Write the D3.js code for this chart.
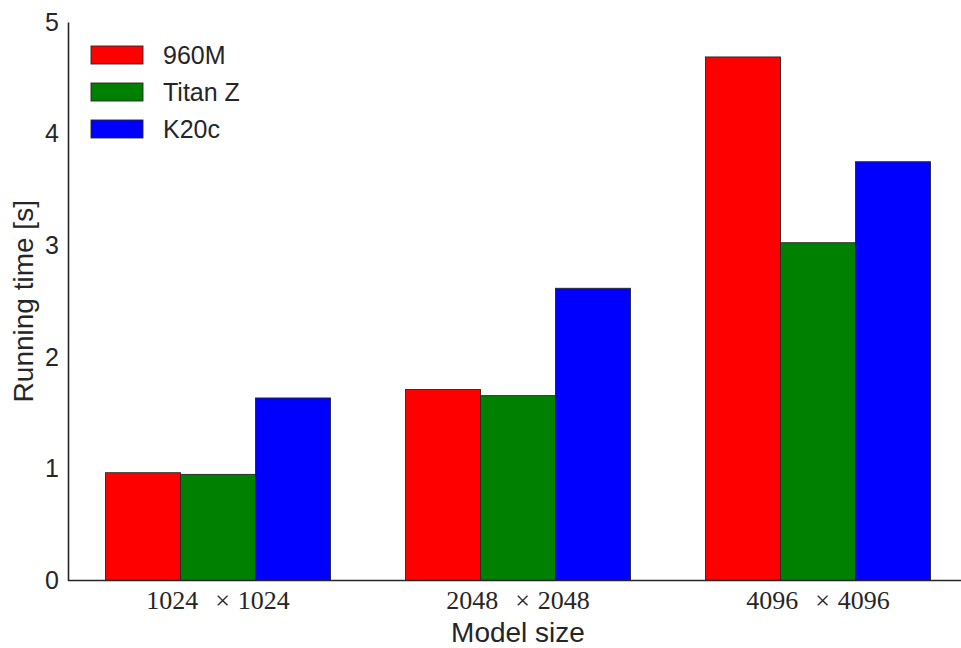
<!DOCTYPE html>
<html>
<head>
<meta charset="utf-8">
<script src="https://cdn.jsdelivr.net/npm/d3@7"></script>
<style>
  html, body { margin: 0; padding: 0; background: #fff; }
  svg { display: block; }
</style>
</head>
<body>
<svg id="chart" width="961" height="648"></svg>
<script>
// Model sizes (x categories) and per-GPU running times in seconds
const categories = ["1024", "2048", "4096"];
const seriesNames = ["960M", "Titan Z", "K20c"];
const seriesColors = ["#ff0000", "#008000", "#0000ff"];
const time960M = [0.965, 1.71, 4.687];
const timeTitanZ = [0.95, 1.655, 3.024];
const timeK20c = [1.634, 2.616, 3.749];
const yTicks = [0, 1, 2, 3, 4, 5];

const series = [time960M, timeTitanZ, timeK20c];
const barWidth = 0.25;

const svg = d3.select("#chart");
const ink = "#262626";
const sans = "Liberation Sans, Arial, sans-serif";

const x = d3.scaleLinear().domain([-0.125, 2.875]).range([68, 968]);
const y = d3.scaleLinear().domain([0, 5]).range([580.5, 22]);

// bars
series.forEach((vals, j) => {
  svg.append("g")
    .selectAll("rect")
    .data(vals)
    .join("rect")
    .attr("x", (d, i) => x(i + j * barWidth))
    .attr("width", x(barWidth) - x(0))
    .attr("y", d => y(d))
    .attr("height", d => y(0) - y(d))
    .attr("fill", seriesColors[j])
    .attr("stroke", ink)
    .attr("stroke-width", 0.9);
});

// y axis: spine and labels, no tick marks
const yAxis = svg.append("g")
  .attr("transform", `translate(${x(-0.125)},0)`)
  .call(d3.axisLeft(y).tickValues(yTicks).tickFormat(d3.format("d")).tickSize(0).tickPadding(9));
yAxis.select(".domain").attr("stroke", ink).attr("stroke-width", 1.6);
yAxis.selectAll("text")
  .attr("font-family", sans)
  .attr("font-size", 25)
  .attr("fill", ink);

// x axis spine
svg.append("line")
  .attr("x1", x(-0.125)).attr("x2", 961)
  .attr("y1", y(0)).attr("y2", y(0))
  .attr("stroke", ink).attr("stroke-width", 1.6);

// x category labels "N × N", centred under each group
const xl = svg.append("g")
  .selectAll("text")
  .data(categories)
  .join("text")
  .attr("x", (d, i) => x(i + 1.5 * barWidth))
  .attr("y", 609)
  .attr("text-anchor", "middle")
  .attr("font-family", "Liberation Serif, 'Times New Roman', serif")
  .attr("font-size", 26)
  .attr("fill", ink);
xl.append("tspan").text(d => d);
xl.append("tspan").attr("dx", 17).text("\u00d7");
xl.append("tspan").attr("dx", 8).text(d => d);

// axis titles
svg.append("text")
  .attr("x", 518).attr("y", 642)
  .attr("text-anchor", "middle")
  .attr("font-family", sans)
  .attr("font-size", 28)
  .attr("fill", ink)
  .text("Model size");

svg.append("text")
  .attr("transform", `translate(33,${(y(0) + y(5)) / 2}) rotate(-90)`)
  .attr("text-anchor", "middle")
  .attr("font-family", sans)
  .attr("font-size", 28)
  .attr("fill", ink)
  .text("Running time [s]");

// legend
const legend = svg.append("g").attr("transform", "translate(91,46)");
seriesNames.forEach((name, j) => {
  const row = legend.append("g").attr("transform", `translate(0,${j * 37})`);
  row.append("rect")
    .attr("width", 52).attr("height", 18)
    .attr("fill", seriesColors[j])
    .attr("stroke", ink).attr("stroke-width", 0.9);
  row.append("text")
    .attr("x", 72).attr("y", 18)
    .attr("font-family", sans)
    .attr("font-size", 25)
    .attr("fill", ink)
    .text(name);
});
</script>
</body>
</html>
